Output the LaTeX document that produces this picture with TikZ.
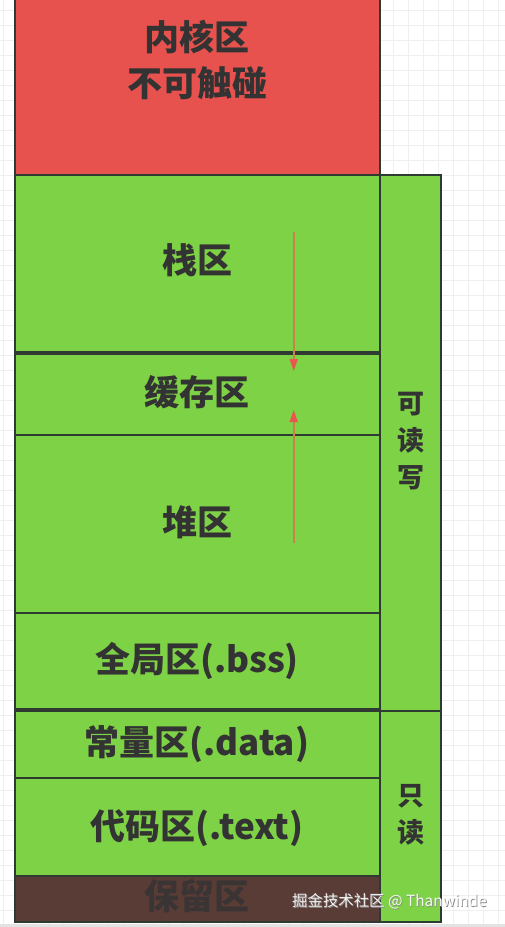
\documentclass[tikz,border=0pt]{standalone}
\usepackage{fontspec}
\newfontfamily\cjk{Noto Sans CJK SC}
\usetikzlibrary{arrows.meta}
\definecolor{kred}{HTML}{E7524E}
\definecolor{kgreen}{HTML}{7ED246}
\definecolor{kbrown}{HTML}{5A3C36}
\definecolor{kline}{HTML}{2F3A33}
\definecolor{ktext}{HTML}{333333}
\definecolor{kresv}{HTML}{3B3434}
\definecolor{kgrid}{HTML}{EFEFEF}
\definecolor{karrow}{HTML}{C8824A}
\definecolor{ktip}{HTML}{EA5550}
\tikzset{
  seg/.style={draw=kline, line width=1.3pt, anchor=north west, inner sep=0pt, outer sep=0pt},
  lbl/.style={font=\cjk\bfseries\fontsize{35}{46}\selectfont, text=ktext, align=center, inner sep=0pt},
  side/.style={font=\cjk\bfseries\fontsize{27}{37}\selectfont, text=ktext, align=center, inner sep=0pt},
  growarrow/.style={draw=karrow, line width=1.7pt, -{Triangle[length=12pt,width=8pt,color=ktip]}},
  wmark/.style={font=\cjk\fontsize{15.4}{18}\selectfont, anchor=west, inner sep=0pt},
}
\begin{document}
\begin{tikzpicture}[x=1pt,y=-1pt]
\useasboundingbox (0,0) rectangle (505,927);
\fill[white] (0,0) rectangle (505,927);
% background grid
\foreach \gx in {3,18,...,503} \draw[kgrid, line width=0.8pt] (\gx,0) -- (\gx,927);
\foreach \gy in {10,25,...,925} \draw[kgrid, line width=0.8pt] (0,\gy) -- (505,\gy);
\fill[black!11] (0,923.5) rectangle (505,927);
% segments
\node[seg, fill=kred, minimum width=365pt, minimum height=185pt] (kern) at (15,-10) {};
\node[seg, fill=kgreen, minimum width=365pt, minimum height=177pt] (stack) at (15,175) {};
\node[seg, fill=kgreen, minimum width=365pt, minimum height=81pt] (buf) at (15,354) {};
\node[seg, fill=kgreen, minimum width=365pt, minimum height=178pt] (heap) at (15,435) {};
\node[seg, fill=kgreen, minimum width=365pt, minimum height=96pt] (bss) at (15,613) {};
\node[seg, fill=kgreen, minimum width=365pt, minimum height=67pt] (data) at (15,711) {};
\node[seg, fill=kgreen, minimum width=365pt, minimum height=98pt] (code) at (15,778) {};
\node[seg, fill=kbrown, minimum width=365pt, minimum height=46pt] (resv) at (15,876) {};
\node[seg, fill=kgreen, minimum width=61pt, minimum height=536pt] (rw) at (380,175) {};
\node[seg, fill=kgreen, minimum width=61pt, minimum height=211pt] (ro) at (380,711) {};
% labels
\node[lbl] (tkern) at (197,60) {内核区\\不可触碰};
\node[lbl] (tstack) at (197,260) {栈区};
\node[lbl] (tbuf) at (197,392) {缓存区};
\node[lbl] (theap) at (197,522) {堆区};
\node[lbl] (tbss) at (197,661) {全局区(.bss)};
\node[lbl] (tdata) at (197,744) {常量区(.data)};
\node[lbl] (tcode) at (197,828) {代码区(.text)};
\node[lbl, text=kresv] (tresv) at (197,896) {保留区};
\node[side] (trw) at (411,441) {可\\读\\写};
\node[side] (tro) at (411,815) {只\\读};
% growth arrows
\coordinate (sa) at (293.7,232);
\coordinate (sb) at (293.7,371);
\coordinate (ha) at (293.7,543);
\coordinate (hb) at (293.7,410);
\draw[growarrow] (sa) -- (sb);
\draw[growarrow] (ha) -- (hb);
% watermark
\node[wmark, text=black!45] (wms) at (292.8,901.8) {掘金技术社区 @ Thanwinde};
\node[wmark, text=white, opacity=0.9] (wm) at (292,901) {掘金技术社区 @ Thanwinde};
\end{tikzpicture}
\end{document}
